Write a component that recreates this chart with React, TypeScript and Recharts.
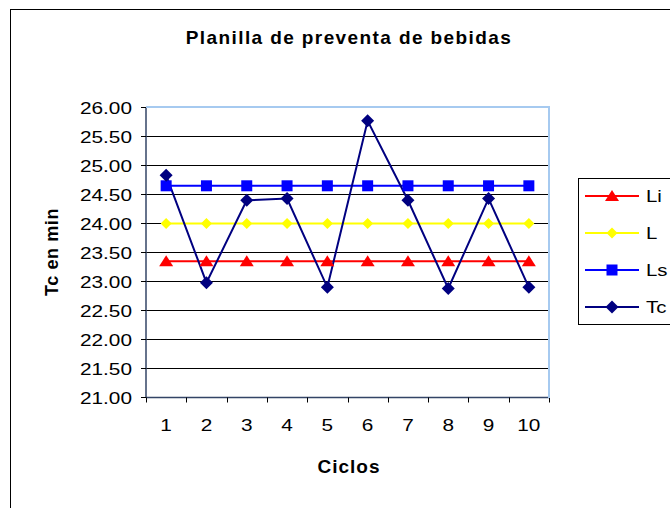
import { LineChart, Line, XAxis, YAxis, CartesianGrid } from 'recharts';

const cycles = ['1', '2', '3', '4', '5', '6', '7', '8', '9', '10'];
const liValues = [23.35, 23.35, 23.35, 23.35, 23.35, 23.35, 23.35, 23.35, 23.35, 23.35];
const lValues = [24.0, 24.0, 24.0, 24.0, 24.0, 24.0, 24.0, 24.0, 24.0, 24.0];
const lsValues = [24.65, 24.65, 24.65, 24.65, 24.65, 24.65, 24.65, 24.65, 24.65, 24.65];
const tcValues = [24.83, 22.98, 24.4, 24.43, 22.9, 25.77, 24.4, 22.88, 24.43, 22.9];
const yTicks = [21, 21.5, 22, 22.5, 23, 23.5, 24, 24.5, 25, 25.5, 26];

const data = cycles.map((c, i) => ({
    ciclo: c,
    Li: liValues[i],
    L: lValues[i],
    Ls: lsValues[i],
    Tc: tcValues[i],
}));

const W = 670;
const H = 508;
const PLOT_LEFT = 146;
const PLOT_RIGHT = 549;
const PLOT_TOP = 107.5;
const PLOT_BOTTOM = 397.5;
const Y_AXIS_W = 70;
const X_AXIS_H = 30;
const BAND = (PLOT_RIGHT - PLOT_LEFT) / cycles.length;
const FONT = '"Liberation Sans", Arial, sans-serif';
const STRETCH = 1.3;

const series = [
    { key: 'Li', color: '#ff0000', shape: 'triangle' },
    { key: 'L', color: '#ffff00', shape: 'smallDiamond' },
    { key: 'Ls', color: '#0000ff', shape: 'square' },
    { key: 'Tc', color: '#000080', shape: 'diamond' },
];

const Marker = ({ cx, cy, shape, color }: any) => {
    if (cx == null || cy == null) return null;
    if (shape === 'triangle') {
        return <polygon points={`${cx},${cy - 6} ${cx + 7},${cy + 5} ${cx - 7},${cy + 5}`} fill={color} />;
    }
    if (shape === 'square') {
        return <rect x={cx - 5.5} y={cy - 5.5} width={11} height={11} fill={color} />;
    }
    const r = shape === 'diamond' ? 6.5 : 5.5;
    return <polygon points={`${cx},${cy - r} ${cx + r},${cy} ${cx},${cy + r} ${cx - r},${cy}`} fill={color} />;
};

const XTick = ({ x, payload, index }: any) => {
    const left = Math.round(x - BAND / 2) + 0.5;
    const right = Math.round(x + BAND / 2) + 0.5;
    return (
        <g>
            <line x1={left} y1={PLOT_BOTTOM} x2={left} y2={PLOT_BOTTOM + 5} stroke="#000" />
            {index === cycles.length - 1 && (
                <line x1={right} y1={PLOT_BOTTOM} x2={right} y2={PLOT_BOTTOM + 5} stroke="#000" />
            )}
            <text
                transform={`translate(${x},${PLOT_BOTTOM + 33}) scale(${STRETCH},1)`}
                textAnchor="middle"
                fontSize={16}
                fontFamily={FONT}
                fill="#000"
            >
                {payload.value}
            </text>
        </g>
    );
};

const YTick = ({ x, y, payload }: any) => (
    <text
        transform={`translate(${x},${y + 6}) scale(${STRETCH},1)`}
        textAnchor="end"
        fontSize={16}
        fontFamily={FONT}
        fill="#000"
    >
        {Number(payload.value).toFixed(2)}
    </text>
);

const LegendBox = () => (
    <div
        style={{
            position: 'absolute',
            left: 578,
            top: 178,
            width: 120,
            height: 147,
            border: '1px solid #000',
            background: '#fff',
            boxSizing: 'border-box',
        }}
    >
        <svg width={120} height={147}>
            {series.map((s, i) => {
                const cy = 17 + i * 37;
                return (
                    <g key={s.key}>
                        <line x1={6} y1={cy} x2={60} y2={cy} stroke={s.color} strokeWidth={2} />
                        <Marker cx={33} cy={cy} shape={s.shape} color={s.color} />
                        <text
                            transform={`translate(67,${cy + 6}) scale(1.2,1)`}
                            fontSize={17}
                            fontFamily={FONT}
                            fill="#000"
                        >
                            {s.key}
                        </text>
                    </g>
                );
            })}
        </svg>
    </div>
);

export default function App() {
    return (
        <div style={{ position: 'fixed', inset: 0, overflow: 'hidden', background: '#fff', fontFamily: FONT }}>
            <div
                style={{
                    position: 'absolute',
                    left: 10,
                    top: 9,
                    width: 720,
                    height: 540,
                    border: '1px solid #000',
                }}
            />
            <div
                style={{
                    position: 'absolute',
                    left: 0,
                    width: 698,
                    top: 27,
                    textAlign: 'center',
                    fontWeight: 'bold',
                    fontSize: 19,
                    letterSpacing: 1.4,
                }}
            >
                Planilla de preventa de bebidas
            </div>
            <div
                style={{
                    position: 'absolute',
                    left: 52,
                    top: 252,
                    transform: 'translate(-50%, -50%) rotate(-90deg)',
                    whiteSpace: 'nowrap',
                    fontWeight: 'bold',
                    fontSize: 18,
                    letterSpacing: 0.6,
                }}
            >
                Tc en min
            </div>
            <div
                style={{
                    position: 'absolute',
                    left: 249,
                    width: 200,
                    top: 456,
                    textAlign: 'center',
                    fontWeight: 'bold',
                    fontSize: 19,
                    letterSpacing: 1,
                }}
            >
                Ciclos
            </div>
            <div style={{ position: 'absolute', left: 0, top: 0 }}>
                <LineChart
                    width={W}
                    height={H}
                    data={data}
                    margin={{
                        top: PLOT_TOP,
                        right: W - PLOT_RIGHT,
                        bottom: H - PLOT_BOTTOM - X_AXIS_H,
                        left: PLOT_LEFT - Y_AXIS_W,
                    }}
                >
                    <CartesianGrid vertical={false} stroke="#000" strokeWidth={1} />
                    <XAxis
                        dataKey="ciclo"
                        scale="band"
                        height={X_AXIS_H}
                        axisLine={{ stroke: '#334466', strokeWidth: 1.5 }}
                        tickLine={false}
                        tick={<XTick />}
                        interval={0}
                    />
                    <YAxis
                        domain={[21, 26]}
                        ticks={yTicks}
                        width={Y_AXIS_W}
                        axisLine={{ stroke: '#334466', strokeWidth: 1.5 }}
                        tickLine={{ stroke: '#000' }}
                        tickSize={5}
                        tickMargin={9}
                        tick={<YTick />}
                        interval={0}
                    />
                    {series.map((s) => (
                        <Line
                            key={s.key}
                            dataKey={s.key}
                            stroke={s.color}
                            strokeWidth={2}
                            isAnimationActive={false}
                            dot={(p: any) => <Marker key={p.index} cx={p.cx} cy={p.cy} shape={s.shape} color={s.color} />}
                            activeDot={false}
                        />
                    ))}
                </LineChart>
            </div>
            <div
                style={{
                    position: 'absolute',
                    left: PLOT_LEFT,
                    top: PLOT_TOP - 1.5,
                    width: PLOT_RIGHT - PLOT_LEFT + 1,
                    height: PLOT_BOTTOM - PLOT_TOP + 1.5,
                    borderTop: '2px solid #a6caf0',
                    borderRight: '2px solid #a6caf0',
                    boxSizing: 'border-box',
                    pointerEvents: 'none',
                }}
            />
            <LegendBox />
        </div>
    );
}
